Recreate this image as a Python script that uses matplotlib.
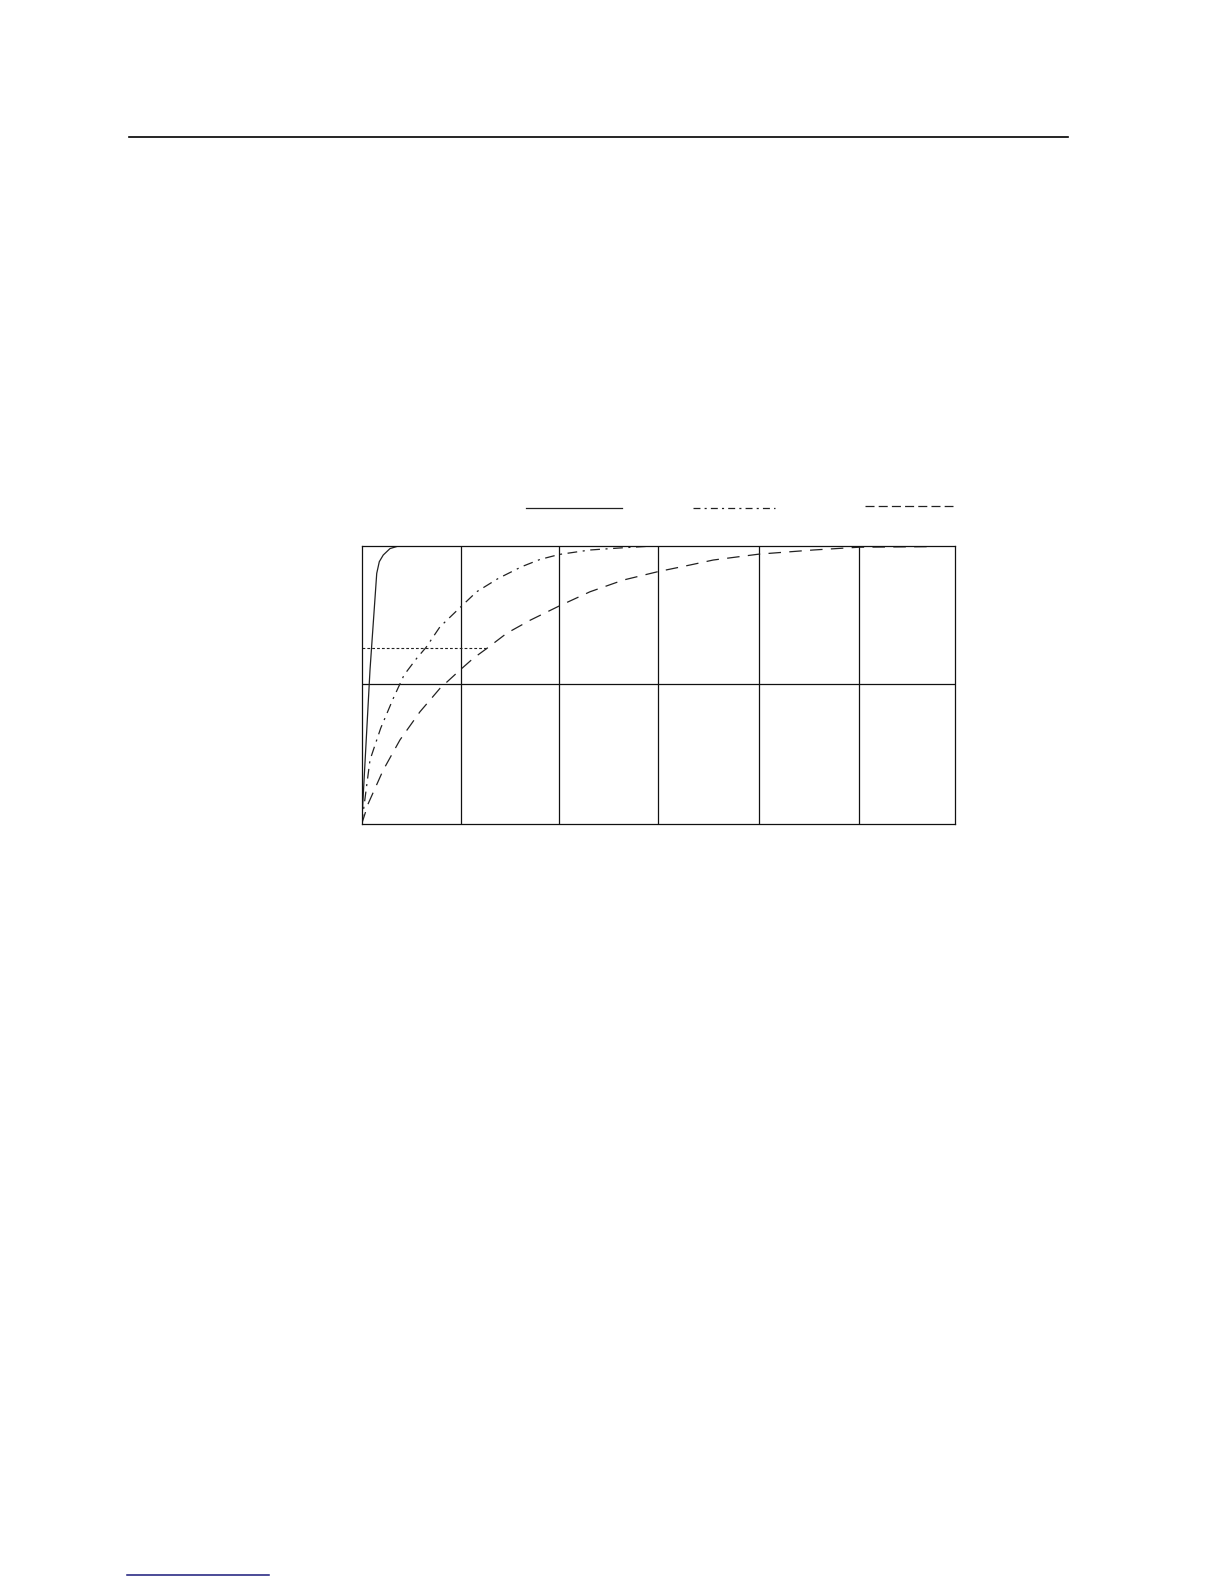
import matplotlib
matplotlib.use("Agg")
import matplotlib.pyplot as plt
from matplotlib.lines import Line2D

plt.rcParams['lines.scale_dashes'] = False

# --- data (x in grid divisions, y as fraction of full scale) ---
solid_x = [0.0, 0.084, 0.152, 0.178, 0.218, 0.286, 0.387, 6.0]
solid_y = [0.0, 0.553, 0.900, 0.942, 0.966, 0.989, 1.0, 1.0]

dashdot_x = [0.0, 0.084, 0.192, 0.319, 0.428, 0.556, 0.650, 0.791, 0.999, 1.162,
             1.381, 1.617, 1.802, 1.997, 2.308, 2.644, 2.982, 4.0]
dashdot_y = [0.0, 0.230, 0.344, 0.451, 0.535, 0.595, 0.634, 0.708, 0.779, 0.834,
             0.882, 0.924, 0.950, 0.968, 0.984, 0.992, 0.999, 1.0]

dashed_x = [0.0, 0.067, 0.218, 0.387, 0.589, 0.791, 0.994, 1.128, 1.267, 1.466,
            1.704, 1.997, 2.308, 2.644, 2.992, 3.318, 3.554, 4.013, 4.565, 5.030, 5.737]
dashed_y = [0.0, 0.074, 0.194, 0.302, 0.403, 0.487, 0.553, 0.595, 0.631, 0.685,
            0.732, 0.783, 0.834, 0.876, 0.906, 0.930, 0.948, 0.969, 0.984, 0.994, 0.996]

level_632 = 0.632
level_end_x = 1.267

vgrid = [1.0, 1.994, 2.992, 4.013, 5.03]
hgrid = [0.503]

fig = plt.figure(figsize=(12.24, 15.84), dpi=100)
ax = fig.add_axes([0.2955, 0.4798, 0.485, 0.1758])
ax.set_xlim(0, 6)
ax.set_ylim(0, 1)
ax.set_xticks([])
ax.set_yticks([])
for s in ax.spines.values():
    s.set_linewidth(0.9)
    s.set_color('#111111')

for v in vgrid:
    ax.axvline(v, color='#111111', lw=0.9)
for h in hgrid:
    ax.axhline(h, color='#111111', lw=0.9)

c = '#222222'
ax.plot(solid_x, solid_y, color=c, lw=0.9, solid_capstyle='butt')
ax.plot(dashdot_x, dashdot_y, color=c, lw=0.9, dashes=(7, 4, 1.5, 4))
ax.plot(dashed_x, dashed_y, color=c, lw=0.9, dashes=(9, 6))
ax.plot([0, level_end_x], [level_632, level_632], color=c, lw=0.8, dashes=(2, 1.5))

# legend sample lines (labels absent in the reference)
fig.add_artist(Line2D([0.4295, 0.5079], [0.6793, 0.6793], color=c, lw=0.9))
fig.add_artist(Line2D([0.5662, 0.6332], [0.6791, 0.6791], color=c, lw=0.9,
                      dashes=(5, 3, 1.5, 3)))
fig.add_artist(Line2D([0.7067, 0.7784], [0.6807, 0.6807], color=c, lw=0.9,
                      dashes=(6.5, 3)))

# page header rule and footer link underline
fig.add_artist(Line2D([0.1054, 0.8723], [0.9133, 0.9133], color='black', lw=1.2))
fig.add_artist(Line2D([0.1038, 0.2198], [0.0055, 0.0055], color='#1a1a7a', lw=1.1))

fig.savefig('out.png', dpi=100, facecolor='white')
